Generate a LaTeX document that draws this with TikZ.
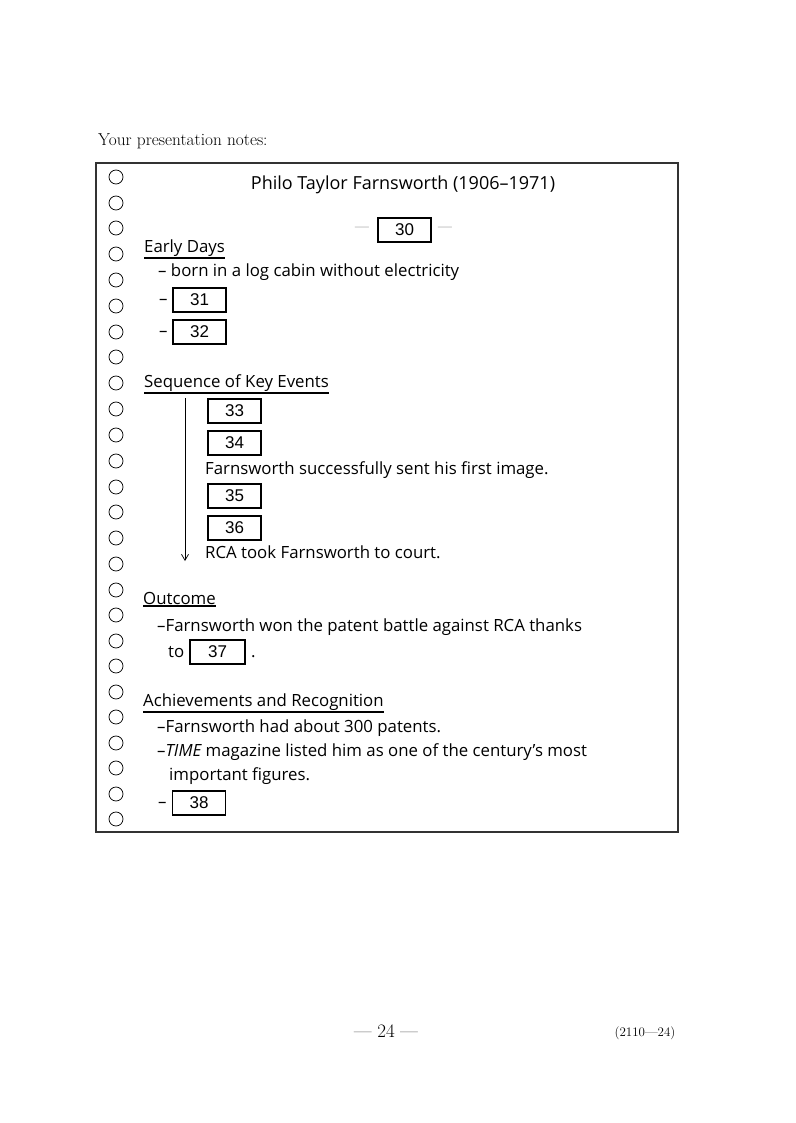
\documentclass[tikz,border=0pt]{standalone}
\usepackage{fontspec}
\usepackage{tikz}
\usetikzlibrary{arrows.meta}
\newfontfamily\handfont{Open Sans}[Ligatures=TeX]
\newfontfamily\boxfont{Liberation Sans}[Ligatures=TeX]

\begin{document}
\begin{tikzpicture}[x=1pt,y=-1pt,
    hand/.style={font=\handfont\fontsize{16.8}{19}\selectfont, anchor=base west, inner sep=0pt},
    ansbox/.style={draw, line width=0.5mm, minimum width=53pt, minimum height=24pt, inner sep=0pt, font=\boxfont\fontsize{17}{19}\selectfont},
    ring/.style={line width=0.25mm},
    head/.style={line width=0.7mm}]
            \useasboundingbox (0,0) rectangle (795,1123);
            \node[anchor=base west, inner sep=0pt, font=\fontsize{17.3}{20}\selectfont] (notes) at (98,146) {Your presentation notes:};
            \draw [line width=0.4mm, black!80] (96,163) rectangle (678,832);
            % binder holes
            \draw [ring] (116,177) circle (7);
            \draw [ring] (116,203) circle (7);
            \draw [ring] (116,228) circle (7);
            \draw [ring] (116,254) circle (7);
            \draw [ring] (116,280) circle (7);
            \draw [ring] (116,306) circle (7);
            \draw [ring] (116,332) circle (7);
            \draw [ring] (116,357) circle (7);
            \draw [ring] (116,383) circle (7);
            \draw [ring] (116,409) circle (7);
            \draw [ring] (116,435) circle (7);
            \draw [ring] (116,461) circle (7);
            \draw [ring] (116,487) circle (7);
            \draw [ring] (116,512) circle (7);
            \draw [ring] (116,538) circle (7);
            \draw [ring] (116,564) circle (7);
            \draw [ring] (116,590) circle (7);
            \draw [ring] (116,615) circle (7);
            \draw [ring] (116,641) circle (7);
            \draw [ring] (116,666) circle (7);
            \draw [ring] (116,692) circle (7);
            \draw [ring] (116,717) circle (7);
            \draw [ring] (116,743) circle (7);
            \draw [ring] (116,768) circle (7);
            \draw [ring] (116,794) circle (7);
            \draw [ring] (116,819) circle (7);
            % title
            \node[font=\handfont\fontsize{18}{20}\selectfont, inner sep=0pt] (title) at (403,185) {Philo Taylor Farnsworth (1906--1971)};
            \node[ansbox] (b30) at (404.5,230) {30};
            \node[font=\fontsize{15}{18}\selectfont, inner sep=0pt] (dashl) at (362,229) {---};
            \node[font=\fontsize{15}{18}\selectfont, inner sep=0pt] (dashr) at (445,229) {---};
            % early days
            \node[hand] (early) at (144,252) {Early Days};
            \draw [head] ([yshift=-2pt]early.south west) -- ([yshift=-2pt]early.south east);
            \node[hand] (cabin) at (158,276) {-- born in a log cabin without electricity};
            \node[hand] (dash31) at (159,304) {--};
            \node[ansbox] (b31) at (199.5,300) {31};
            \node[hand] (dash32) at (159,336) {--};
            \node[ansbox] (b32) at (199.5,332) {32};
            % sequence
            \node[hand] (seq) at (144,387) {Sequence of Key Events};
            \draw [head] ([yshift=-2pt]seq.south west) -- ([yshift=-2pt]seq.south east);
            \coordinate (evtop) at (185,398);
            \coordinate (evend) at (185,561);
            \draw [line width=0.25mm, -{Straight Barb[length=6pt,width=7pt]}] (evtop) -- (evend);
            \node[ansbox] (b33) at (234.5,411) {33};
            \node[ansbox] (b34) at (234.5,443) {34};
            \node[hand] (image) at (205,474) {Farnsworth successfully sent his first image.};
            \node[ansbox] (b35) at (234.5,496) {35};
            \node[ansbox] (b36) at (234.5,528) {36};
            \node[hand] (court) at (205,558) {RCA took Farnsworth to court.};
            % outcome
            \node[hand] (outcome) at (143,604) {Outcome};
            \draw [head] ([yshift=-2pt]outcome.south west) -- ([yshift=-2pt]outcome.south east);
            \node[hand] (won) at (157,631) {--Farnsworth won the patent battle against RCA thanks};
            \node[hand] (to) at (168,657) {to};
            \node[ansbox, minimum width=55pt] (b37) at (217.5,652) {37};
            \node[hand] (stop) at (251,657) {.};
            % achievements
            \node[hand] (achieve) at (143,706) {Achievements and Recognition};
            \draw [head] ([yshift=-2pt]achieve.south west) -- ([yshift=-2pt]achieve.south east);
            \node[hand] (patents) at (157,732) {--Farnsworth had about 300 patents.};
            \node[hand] (time) at (157,756) {--{\itshape TIME} magazine listed him as one of the century’s most};
            \node[hand] (figures) at (169,780) {important figures.};
            \node[hand] (dash38) at (158,807) {--};
            \node[ansbox] (b38) at (199,803) {38};
            % footer
            \node[font=\fontsize{19}{22}\selectfont, inner sep=0pt] (page) at (386,1031) {--- 24 ---};
            \node[font=\fontsize{13}{15}\selectfont, inner sep=0pt] (code) at (645,1033) {(2110---24)};
        \end{tikzpicture}
\end{document}
